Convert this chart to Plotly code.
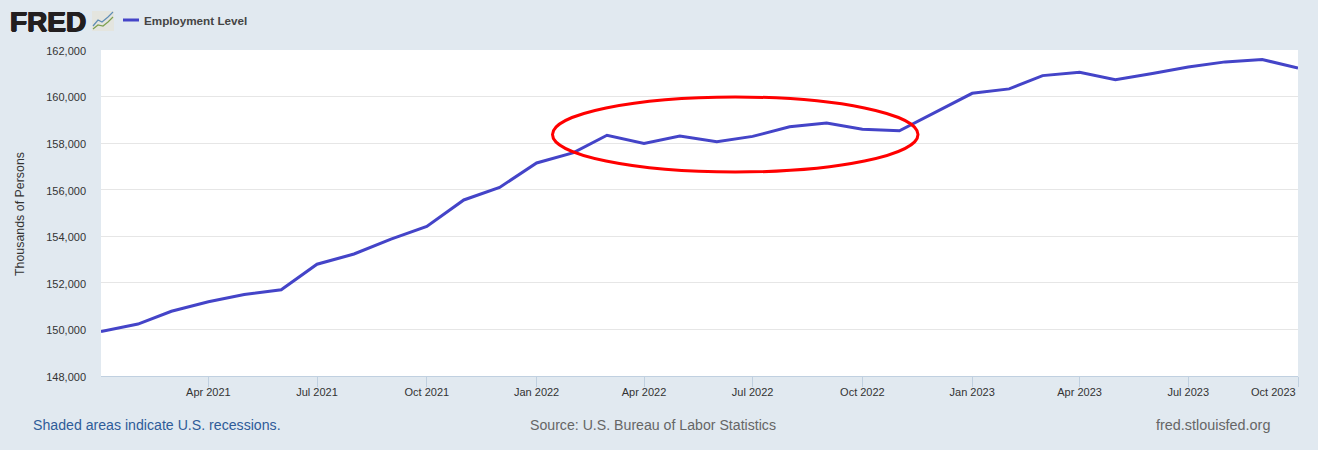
import plotly.graph_objects as go

months = ["2021-01","2021-02","2021-03","2021-04","2021-05","2021-06","2021-07","2021-08","2021-09","2021-10","2021-11","2021-12",
          "2022-01","2022-02","2022-03","2022-04","2022-05","2022-06","2022-07","2022-08","2022-09","2022-10","2022-11","2022-12",
          "2023-01","2023-02","2023-03","2023-04","2023-05","2023-06","2023-07","2023-08","2023-09","2023-10"]
employment = [149910,150230,150780,151190,151500,151700,152800,153240,153880,154420,155560,156100,
              157150,157590,158340,157990,158310,158060,158290,158700,158860,158600,158530,159320,
              160140,160330,160900,161040,160720,160990,161270,161490,161590,161230]
tick_dates = ["2021-04-01","2021-07-01","2021-10-01","2022-01-01","2022-04-01","2022-07-01","2022-10-01",
              "2023-01-01","2023-04-01","2023-07-01","2023-10-01"]
tick_labels = ["Apr 2021","Jul 2021","Oct 2021","Jan 2022","Apr 2022","Jul 2022","Oct 2022",
               "Jan 2023","Apr 2023","Jul 2023",""]
y_ticks = list(range(148000, 162001, 2000))

W, H = 1318, 450
L, R, T, B = 101, 1298, 50, 376
BG = "#e1e9f0"
FONT = "Liberation Sans"

def px(x): return (x - L) / (R - L)
def py(y): return (B - y) / (B - T)

fig = go.Figure(go.Scatter(
    x=[m + "-01" for m in months], y=employment, mode="lines",
    line=dict(color="#4444c8", width=3), hoverinfo="skip", showlegend=False, cliponaxis=True))

shapes = [
    dict(type="circle", xref="paper", yref="paper", x0=px(552.5), x1=px(918), y0=py(172), y1=py(97),
         line=dict(color="#ff0000", width=3), layer="above"),
    dict(type="line", xref="paper", yref="paper", x0=px(123), x1=px(139), y0=py(20), y1=py(20),
         line=dict(color="#4444c8", width=3)),
    dict(type="rect", xref="paper", yref="paper", x0=px(92), x1=px(114), y0=py(31), y1=py(11),
         line=dict(width=0), fillcolor="#e4e5df"),
    dict(type="path", xref="paper", yref="paper",
         path=f"M {px(93)} {py(26)} L {px(98)} {py(20)} L {px(102)} {py(22)} L {px(108)} {py(17)} L {px(113)} {py(12)}",
         line=dict(color="#5f8db5", width=1.2)),
    dict(type="path", xref="paper", yref="paper",
         path=f"M {px(93)} {py(29)} L {px(98)} {py(25)} L {px(103)} {py(26)} L {px(108)} {py(22)} L {px(113)} {py(17)}",
         line=dict(color="#7da04f", width=1.2)),
]

def note(text, x, y, size, color, anchor="left", **kw):
    font = dict(family=FONT, size=size, color=color)
    font.update(kw.pop("font_extra", {}))
    return dict(text=text, xref="paper", yref="paper", x=px(x), y=py(y), xanchor=anchor, yanchor="middle",
                showarrow=False, font=font, **kw)

annotations = [
    note("<b>FRED</b>", 8, 21, 28, "#231f20",
         font_extra=dict(shadow="0.7px 0 0 #231f20, -0.7px 0 0 #231f20, 0 0.5px 0 #231f20, 0 -0.5px 0 #231f20")),
    note("<b>Employment Level</b>", 142, 20, 11.7, "#444444"),
    note("Shaded areas indicate U.S. recessions.", 31, 425, 14.15, "#2f5c99"),
    note("Source: U.S. Bureau of Labor Statistics", 528, 425, 14.15, "#666666"),
    note("fred.stlouisfed.org", 1154, 425, 14.4, "#666666"),
    note("Oct 2023", 1297.5, 392, 11, "#333333", anchor="right"),
    note("Thousands of Persons", 20, 214, 12.4, "#333333", anchor="center", textangle=-90),
]

fig.update_layout(
    width=W, height=H, autosize=False,
    margin=dict(l=L, r=W - R, t=T, b=H - B, pad=0),
    paper_bgcolor=BG, plot_bgcolor="#ffffff",
    font=dict(family=FONT, size=11, color="#333333"),
    shapes=shapes, annotations=annotations,
    xaxis=dict(type="date", range=["2021-01-01", "2023-10-01"], tickmode="array",
               tickvals=tick_dates, ticktext=tick_labels, tickangle=0, ticks="outside", ticklen=10, tickwidth=1,
               tickcolor="#c0d0e0", showline=True, linecolor="#c0d0e0", linewidth=1, showgrid=False, zeroline=False,
               ticklabelstandoff=-4,
               tickfont=dict(family=FONT, size=11, color="#333333")),
    yaxis=dict(range=[148000, 162000], tickmode="array", tickvals=y_ticks, tickformat=",d", ticks="",
               showgrid=True, gridcolor="#e6e6e6", gridwidth=1, zeroline=False, showline=False, ticklabelstandoff=14,
               ticklabelshift=1,
               tickfont=dict(family=FONT, size=11, color="#333333")),
)
fig.write_html("out.html", config=dict(displayModeBar=False),
               post_script="document.body.style.margin='0';document.documentElement.style.overflow='hidden';")
